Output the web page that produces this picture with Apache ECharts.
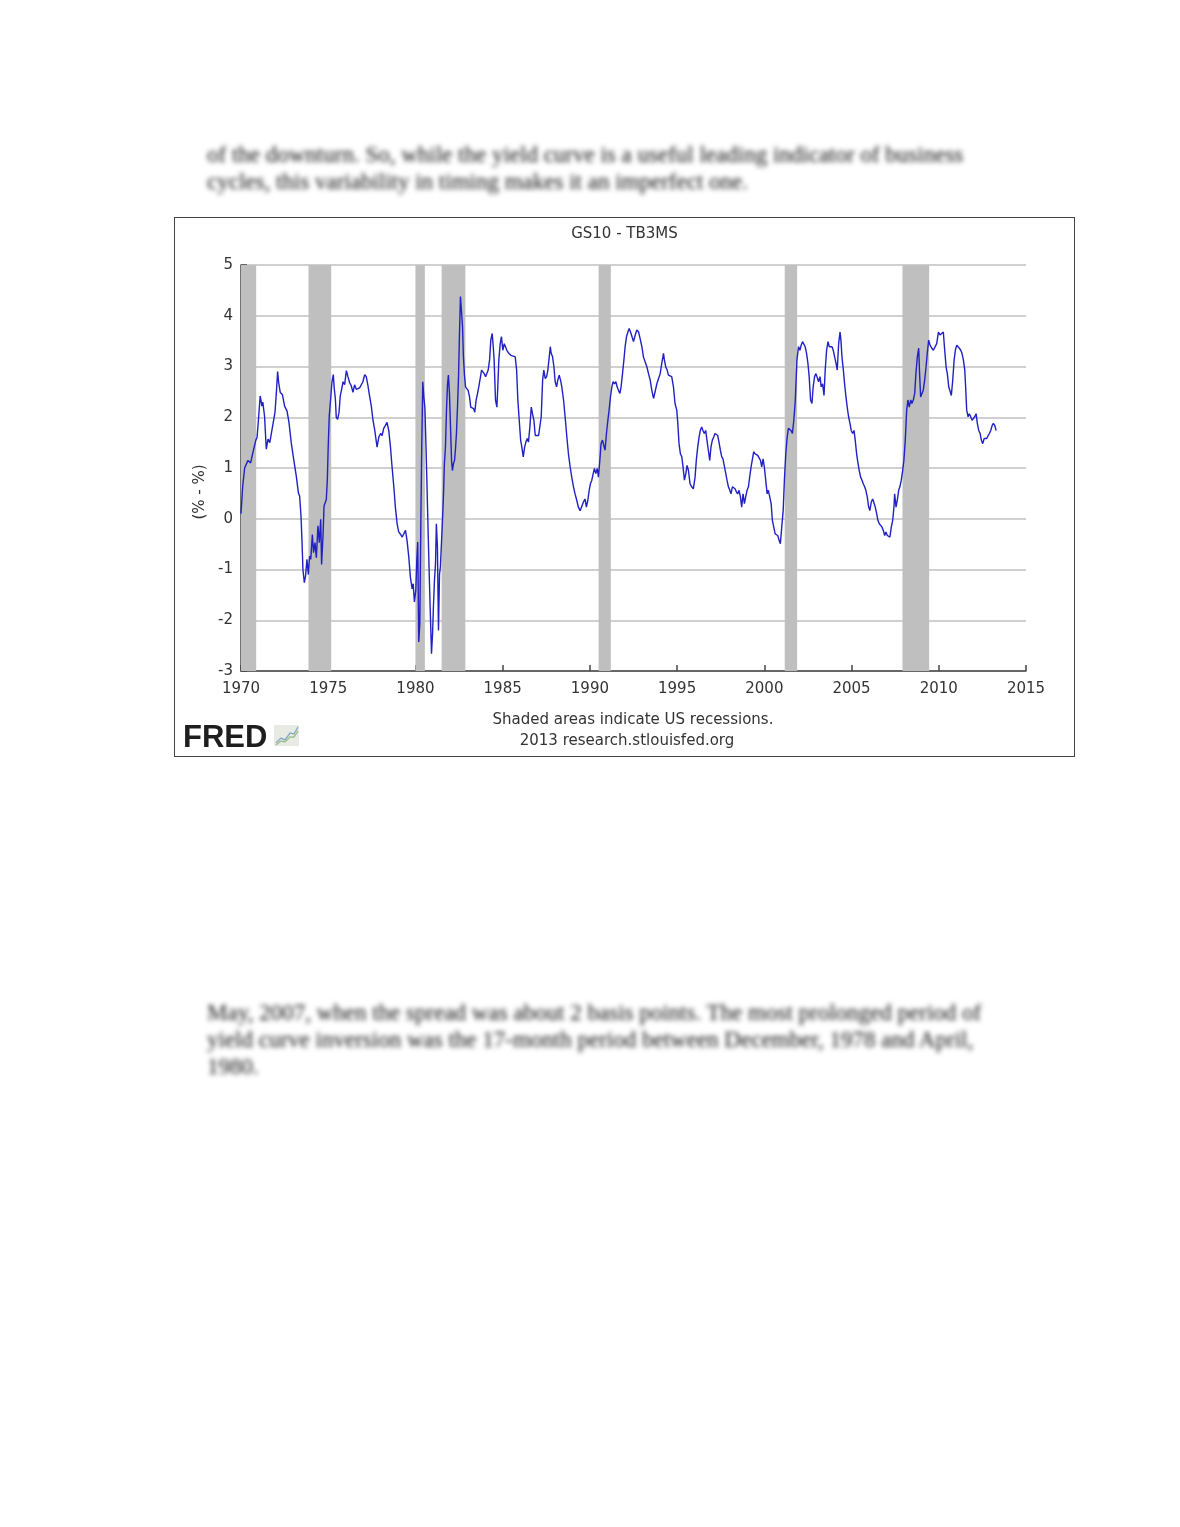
<!DOCTYPE html>
<html>
<head>
<meta charset="utf-8">
<title>GS10 - TB3MS</title>
<script src="https://cdn.jsdelivr.net/npm/echarts@6/dist/echarts.min.js"></script>
<style>
  html, body { margin: 0; padding: 0; background: #fff; }
  body { position: relative; width: 1180px; height: 1527px; overflow: hidden; }
  .blur { position: absolute; left: 207px; font-family: "Liberation Serif", serif; font-size: 23px;
          color: #111; white-space: nowrap; filter: blur(2.6px); line-height: 27px; }
  #box { position: absolute; left: 174px; top: 217px; width: 901px; height: 540px;
         box-sizing: border-box; border: 1px solid #444; background: #fff; }
  #chart { width: 899px; height: 538px; }
</style>
</head>
<body>
<div class="blur" style="top:141px">of the downturn. So, while the yield curve is a useful leading indicator of business<br>cycles, this variability in timing makes it an imperfect one.</div>
<div id="box"><div id="chart"></div></div>
<div class="blur" style="top:999px">May, 2007, when the spread was about 2 basis points. The most prolonged period of<br>yield curve inversion was the 17-month period between December, 1978 and April,<br>1980.</div>
<script>
// monthly-ish readings of GS10 minus TB3MS (percentage points), x in decimal years
const years = [
  1970.00, 1970.10, 1970.21, 1970.40, 1970.55, 1970.70, 1970.85, 1970.92, 1971.00, 1971.10,
  1971.20, 1971.25, 1971.35, 1971.45, 1971.55, 1971.65, 1971.75, 1971.85, 1971.95, 1972.03,
  1972.10, 1972.16, 1972.25, 1972.37, 1972.50, 1972.64, 1972.75, 1972.88, 1973.02, 1973.17,
  1973.29, 1973.36, 1973.44, 1973.50, 1973.55, 1973.63, 1973.70, 1973.78, 1973.86, 1973.93,
  1974.00, 1974.09, 1974.16, 1974.24, 1974.32, 1974.41, 1974.49, 1974.57, 1974.62, 1974.70,
  1974.76, 1974.83, 1974.89, 1974.95, 1975.00, 1975.06, 1975.14, 1975.21, 1975.29, 1975.35,
  1975.41, 1975.46, 1975.54, 1975.62, 1975.69, 1975.77, 1975.85, 1975.94, 1976.04, 1976.13,
  1976.23, 1976.32, 1976.42, 1976.51, 1976.61, 1976.70, 1976.80, 1976.90, 1976.99, 1977.09,
  1977.18, 1977.28, 1977.37, 1977.47, 1977.56, 1977.66,
  1977.80, 1977.90, 1978.00, 1978.09, 1978.18, 1978.28, 1978.37, 1978.47, 1978.57, 1978.66,
  1978.76, 1978.85, 1978.95, 1979.04, 1979.13, 1979.24, 1979.33, 1979.43, 1979.52, 1979.62,
  1979.71, 1979.81, 1979.87, 1979.94, 1980.02, 1980.08, 1980.13, 1980.19, 1980.25, 1980.31,
  1980.36, 1980.42, 1980.48, 1980.54, 1980.59, 1980.65, 1980.73, 1980.80, 1980.86, 1980.92,
  1980.98, 1981.03, 1981.09, 1981.15, 1981.20, 1981.26, 1981.32, 1981.38, 1981.43, 1981.49,
  1981.55, 1981.61, 1981.66, 1981.72, 1981.78, 1981.84, 1981.89, 1981.95, 1982.01, 1982.07,
  1982.12, 1982.18, 1982.24, 1982.29, 1982.35, 1982.41, 1982.47, 1982.52, 1982.58, 1982.64,
  1982.70, 1982.75, 1982.81, 1982.87, 1982.94, 1983.02, 1983.10, 1983.17, 1983.25, 1983.33,
  1983.40, 1983.48, 1983.56, 1983.63, 1983.71, 1983.79, 1983.86, 1983.94, 1984.02, 1984.09,
  1984.17, 1984.25, 1984.32, 1984.40, 1984.46, 1984.51, 1984.59, 1984.67, 1984.72, 1984.78,
  1984.86, 1984.93, 1985.01, 1985.09, 1985.16, 1985.24, 1985.35, 1985.47, 1985.58,
  1985.72, 1985.80, 1985.87, 1985.95, 1986.03, 1986.10, 1986.18, 1986.26, 1986.33, 1986.41,
  1986.48, 1986.56, 1986.64, 1986.71, 1986.79, 1986.87, 1986.94, 1987.06, 1987.15, 1987.21,
  1987.29, 1987.36, 1987.44, 1987.52, 1987.59, 1987.67, 1987.73, 1987.78, 1987.86, 1987.94,
  1988.01, 1988.09, 1988.16, 1988.24, 1988.32, 1988.39, 1988.49, 1988.58, 1988.68, 1988.77,
  1988.87, 1988.96, 1989.06, 1989.15, 1989.25, 1989.34, 1989.44, 1989.53, 1989.63, 1989.72,
  1989.80, 1989.88, 1989.96, 1990.03, 1990.11, 1990.19, 1990.26, 1990.34, 1990.42, 1990.49,
  1990.57, 1990.64, 1990.72, 1990.80, 1990.87, 1990.95, 1991.03, 1991.10, 1991.18, 1991.26,
  1991.33, 1991.41, 1991.49, 1991.56, 1991.64, 1991.72, 1991.79, 1991.87, 1991.95, 1992.02,
  1992.10, 1992.18, 1992.25, 1992.33, 1992.41, 1992.50, 1992.60, 1992.69, 1992.79, 1992.88,
  1992.98, 1993.07, 1993.17, 1993.27, 1993.36, 1993.46, 1993.55, 1993.65,
  1993.74, 1993.84, 1993.93, 1994.03, 1994.12, 1994.22, 1994.27, 1994.35, 1994.43, 1994.50,
  1994.60, 1994.69, 1994.79, 1994.88, 1994.98, 1995.04, 1995.11, 1995.19, 1995.27, 1995.34,
  1995.42, 1995.50, 1995.57, 1995.65, 1995.74, 1995.84, 1995.93, 1996.03, 1996.10, 1996.18,
  1996.26, 1996.33, 1996.41, 1996.48, 1996.56, 1996.64, 1996.71, 1996.79, 1996.87, 1996.94,
  1997.02, 1997.10, 1997.17, 1997.25, 1997.33, 1997.40, 1997.48, 1997.56, 1997.63, 1997.71,
  1997.79, 1997.86, 1997.94, 1998.02, 1998.09, 1998.17, 1998.25, 1998.32, 1998.40, 1998.47,
  1998.55, 1998.63, 1998.70, 1998.78, 1998.86, 1998.93, 1999.01, 1999.09, 1999.16, 1999.24,
  1999.32, 1999.39, 1999.47, 1999.55, 1999.62, 1999.70, 1999.78, 1999.85, 1999.93, 2000.00,
  2000.08, 2000.16, 2000.23, 2000.31, 2000.39, 2000.46, 2000.54, 2000.62, 2000.69, 2000.77,
  2000.85, 2000.92, 2001.00, 2001.08, 2001.15, 2001.23, 2001.31, 2001.38, 2001.46, 2001.53,
  2001.61, 2001.69,
  2001.77, 2001.87, 2001.96, 2002.04, 2002.11, 2002.19, 2002.27, 2002.34, 2002.42, 2002.50,
  2002.57, 2002.65, 2002.73, 2002.80, 2002.88, 2002.96, 2003.03, 2003.11, 2003.19, 2003.26,
  2003.34, 2003.42, 2003.49, 2003.57, 2003.65, 2003.72, 2003.80, 2003.88, 2003.95, 2004.03,
  2004.11, 2004.18, 2004.26, 2004.34, 2004.39, 2004.45, 2004.53, 2004.60, 2004.68, 2004.75,
  2004.83, 2004.91, 2004.98, 2005.06, 2005.14, 2005.21, 2005.29, 2005.37, 2005.44, 2005.52,
  2005.60, 2005.67, 2005.75, 2005.82, 2005.90, 2005.98, 2006.05, 2006.13, 2006.21, 2006.28,
  2006.36, 2006.44, 2006.51, 2006.59, 2006.67, 2006.74, 2006.82, 2006.90, 2006.97, 2007.05,
  2007.13, 2007.20, 2007.28, 2007.36, 2007.43, 2007.47, 2007.55, 2007.62, 2007.70, 2007.77,
  2007.85, 2007.93, 2008.00, 2008.08, 2008.16, 2008.23, 2008.31, 2008.39, 2008.46, 2008.54,
  2008.62, 2008.69, 2008.77, 2008.85, 2008.90, 2008.96, 2009.04, 2009.11, 2009.19, 2009.27,
  2009.34, 2009.42,
  2009.50, 2009.60, 2009.69, 2009.79, 2009.88, 2009.98, 2010.07, 2010.17, 2010.26, 2010.34,
  2010.42, 2010.49, 2010.57, 2010.65, 2010.72, 2010.80, 2010.88, 2010.95, 2011.03, 2011.10,
  2011.18, 2011.26, 2011.33, 2011.41, 2011.49, 2011.54, 2011.60, 2011.68, 2011.75, 2011.83,
  2011.91, 2011.98, 2012.06, 2012.14, 2012.21, 2012.29, 2012.37, 2012.44, 2012.52, 2012.60,
  2012.67, 2012.75, 2012.83, 2012.90, 2012.98, 2013.06, 2013.13, 2013.21, 2013.29
];
const spread = [
  0.10, 0.65, 1.00, 1.15, 1.10, 1.33, 1.55, 1.60, 1.95, 2.42,
  2.22, 2.30, 2.02, 1.37, 1.57, 1.50, 1.52, 1.90, 2.10, 2.50,
  2.90, 2.68, 2.49, 2.45, 2.22, 2.12, 1.90, 1.50, 1.17, 0.84,
  0.51, 0.45, 0.05, -0.47, -1.00, -1.26, -1.13, -0.80, -1.10, -0.74,
  -0.80, -0.31, -0.67, -0.47, -0.77, -0.14, -0.47, -0.01, -0.90, -0.34,
  0.25, 0.32, 0.38, 0.78, 1.43, 2.03, 2.36, 2.68, 2.84, 2.55,
  2.36, 2.00, 1.96, 2.10, 2.42, 2.55, 2.70, 2.64, 2.92, 2.80,
  2.68, 2.62, 2.49, 2.64, 2.55, 2.52, 2.58, 2.58, 2.70, 2.84,
  2.80, 2.62, 2.42, 2.22, 1.96, 1.76,
  1.41, 1.61, 1.68, 1.64, 1.78, 1.84, 1.90, 1.74, 1.41, 1.02,
  0.63, 0.23, -0.10, -0.26, -0.30, -0.36, -0.33, -0.23, -0.43, -0.76,
  -1.15, -1.38, -1.28, -1.64, -1.41, -0.80, -0.46, -2.43, -2.07, -0.03,
  1.41, 2.70, 2.40, 2.20, 1.61, 0.82, -0.30, -1.22, -1.94, -2.66,
  -2.27, -1.74, -1.22, -0.89, -0.10, -0.56, -2.20, -1.09, -0.95, -0.49,
  -0.03, 0.50, 1.09, 1.41, 2.14, 2.66, 2.83, 2.47, 1.81, 1.15,
  0.95, 1.09, 1.15, 1.35, 1.68, 2.20, 2.80, 3.59, 4.38, 4.41,
  3.78, 3.19, 2.83, 2.60, 2.63, 2.53, 2.40, 2.20, 2.20, 2.17,
  2.10, 2.34, 2.47, 2.60, 2.76, 2.93, 2.93, 2.86, 2.80, 2.83,
  2.93, 3.13, 3.52, 3.65, 3.39, 3.13, 2.34, 2.20, 2.60, 3.13,
  3.45, 3.59, 3.32, 3.45, 3.39, 3.32, 3.26, 3.22, 3.22,
  3.19, 2.93, 2.34, 1.94, 1.55, 1.41, 1.22, 1.41, 1.51, 1.58,
  1.51, 1.81, 2.20, 2.07, 1.94, 1.64, 1.61, 1.64, 1.64, 2.01,
  2.73, 2.93, 2.76, 2.80, 2.93, 3.19, 3.39, 3.26, 3.19, 2.99,
  2.70, 2.60, 2.73, 2.83, 2.73, 2.60, 2.34, 2.01, 1.61, 1.28,
  1.02, 0.82, 0.63, 0.49, 0.36, 0.23, 0.16, 0.15, 0.33, 0.39,
  0.23, 0.36, 0.56, 0.69, 0.76, 0.89, 0.99, 0.89, 0.99, 0.82,
  1.15, 1.48, 1.55, 1.55, 1.35, 1.68, 1.94, 2.14, 2.40, 2.60,
  2.70, 2.66, 2.70, 2.60, 2.53, 2.47, 2.60, 2.86, 3.13, 3.39,
  3.59, 3.68, 3.75, 3.68, 3.59, 3.49, 3.62, 3.72, 3.68, 3.55,
  3.39, 3.19, 3.09, 2.99, 2.86, 2.73, 2.53, 2.37,
  2.34, 2.66, 2.76, 2.86, 3.06, 3.26, 3.13, 2.99, 2.93, 2.83,
  2.80, 2.80, 2.60, 2.27, 2.14, 1.88, 1.48, 1.28, 1.22, 1.02,
  0.76, 0.89, 1.05, 0.95, 0.69, 0.63, 0.59, 0.82, 1.15, 1.41,
  1.61, 1.74, 1.81, 1.74, 1.68, 1.74, 1.55, 1.35, 1.15, 1.41,
  1.55, 1.61, 1.68, 1.71, 1.64, 1.51, 1.35, 1.22, 1.18, 1.15,
  0.89, 0.76, 0.63, 0.56, 0.49, 0.63, 0.66, 0.59, 0.53, 0.49,
  0.56, 0.43, 0.23, 0.49, 0.30, 0.43, 0.56, 0.63, 0.82, 1.02,
  1.18, 1.32, 1.28, 1.28, 1.25, 1.28, 1.15, 1.02, 1.18, 1.02,
  0.76, 0.49, 0.56, 0.43, 0.30, -0.03, -0.16, -0.30, -0.30, -0.33,
  -0.43, -0.49, -0.16, 0.16, 0.76, 1.28, 1.61, 1.78, 1.81, 1.74,
  1.68, 1.94,
  2.30, 3.13, 3.39, 3.32, 3.42, 3.49, 3.49, 3.39, 3.26, 3.06,
  2.80, 2.34, 2.27, 2.60, 2.80, 2.86, 2.83, 2.70, 2.80, 2.60,
  2.66, 2.43, 2.93, 3.32, 3.49, 3.39, 3.39, 3.39, 3.32, 3.19,
  3.06, 2.93, 3.45, 3.68, 3.52, 3.19, 2.93, 2.66, 2.40, 2.20,
  2.01, 1.88, 1.74, 1.68, 1.74, 1.55, 1.28, 1.09, 0.95, 0.82,
  0.76, 0.69, 0.63, 0.56, 0.43, 0.23, 0.16, 0.33, 0.39, 0.36,
  0.23, 0.10, -0.03, -0.10, -0.13, -0.16, -0.23, -0.33, -0.26, -0.33,
  -0.30, -0.36, -0.16, -0.03, 0.23, 0.49, 0.23, 0.36, 0.56, 0.63,
  0.76, 0.95, 1.15, 1.55, 2.14, 2.34, 2.20, 2.34, 2.27, 2.34,
  2.47, 2.86, 3.19, 3.36, 2.86, 2.40, 2.43, 2.53, 2.73, 2.99,
  3.26, 3.52,
  3.42, 3.36, 3.32, 3.39, 3.45, 3.68, 3.62, 3.62, 3.68, 3.32,
  2.99, 2.86, 2.60, 2.57, 2.43, 2.73, 3.13, 3.32, 3.42, 3.45,
  3.36, 3.32, 3.26, 3.13, 2.93, 2.60, 2.14, 2.01, 2.07, 2.01,
  1.94, 1.94, 2.01, 2.07, 1.88, 1.74, 1.68, 1.55, 1.48, 1.58,
  1.61, 1.58, 1.64, 1.68, 1.74, 1.84, 1.88, 1.84, 1.74
];
// NBER recessions, start / end as decimal years
const recessionStart = [1970.00, 1973.87, 1980.00, 1981.50, 1990.50, 2001.17, 2007.92];
const recessionEnd   = [1970.87, 1975.17, 1980.54, 1982.86, 1991.20, 2001.88, 2009.45];
const xTicks = [1970, 2015, 5];
const yTicks = [-3, 5, 1];

const font = '"DejaVu Sans", Verdana, sans-serif';
let chart = echarts.init(document.getElementById('chart'), null, {renderer: 'canvas'});

let lineData = years.map((y, i) => [y, spread[i]]);
let areas = recessionStart.map((s, i) => [{xAxis: s}, {xAxis: recessionEnd[i]}]);

chart.setOption({
  animation: false,
  backgroundColor: '#fff',
  title: {
    text: 'GS10 - TB3MS', left: 'center', top: 4,
    textStyle: {fontFamily: font, fontSize: 15, fontWeight: 'normal', color: '#333'}
  },
  grid: {left: 66, top: 47, right: 48, bottom: 85},
  xAxis: {
    type: 'value', min: xTicks[0], max: xTicks[1], interval: xTicks[2],
    axisLine: {onZero: false, lineStyle: {color: '#444', width: 1.5}},
    axisTick: {inside: true, length: 6, lineStyle: {color: '#444', width: 1.5}},
    axisLabel: {fontFamily: font, fontSize: 15, color: '#333', margin: 11, formatter: v => String(v)},
    splitLine: {show: false}
  },
  yAxis: {
    type: 'value', min: yTicks[0], max: yTicks[1], interval: yTicks[2],
    axisLine: {show: true, onZero: false, lineStyle: {color: '#444', width: 1.5}},
    axisTick: {show: true, inside: true, length: 6, lineStyle: {color: '#444', width: 1.5}},
    axisLabel: {fontFamily: font, fontSize: 15, color: '#333', margin: 8},
    splitLine: {show: true, lineStyle: {color: '#c0c0c0', width: 1.6}}
  },
  series: [
    {
      name: 'recessions', type: 'line', data: [], z: 1, silent: true,
      markArea: {silent: true, z: 1, itemStyle: {color: '#bfbfbf', opacity: 1}, data: areas}
    },
    {
      name: 'GS10 - TB3MS', type: 'line', data: lineData, z: 5,
      showSymbol: false, symbol: 'none',
      lineStyle: {color: '#2020c4', width: 1.4}
    }
  ],
  graphic: [
    {type: 'text', x: 25, y: 274, rotation: Math.PI / 2,
     style: {text: '(% - %)', font: '15px ' + font, fill: '#333', align: 'center', verticalAlign: 'middle'}},
    {type: 'text', x: 458, y: 502,
     style: {text: 'Shaded areas indicate US recessions.', font: '15px ' + font, fill: '#333', align: 'center', verticalAlign: 'middle'}},
    {type: 'text', x: 452, y: 523,
     style: {text: '2013 research.stlouisfed.org', font: '15px ' + font, fill: '#333', align: 'center', verticalAlign: 'middle'}},
    {type: 'text', x: 8, y: 520,
     style: {text: 'FRED', font: '900 31px "Liberation Sans", Arial, sans-serif', fill: '#1e1e1e', align: 'left', verticalAlign: 'middle'}},
    {type: 'group', x: 99, y: 507, children: [
      {type: 'rect', shape: {x: 0, y: 0, width: 25, height: 21}, style: {fill: '#e7ebe3'}},
      {type: 'polyline', shape: {points: [[2, 18], [7, 13], [11, 15], [16, 8], [20, 9], [24, 2]]},
       style: {stroke: '#8fa7c9', lineWidth: 1.4, fill: null}},
      {type: 'polyline', shape: {points: [[2, 20], [7, 16], [11, 17], [16, 12], [20, 12], [24, 6]]},
       style: {stroke: '#9dc38d', lineWidth: 1.4, fill: null}}
    ]}
  ]
});
</script>
</body>
</html>
